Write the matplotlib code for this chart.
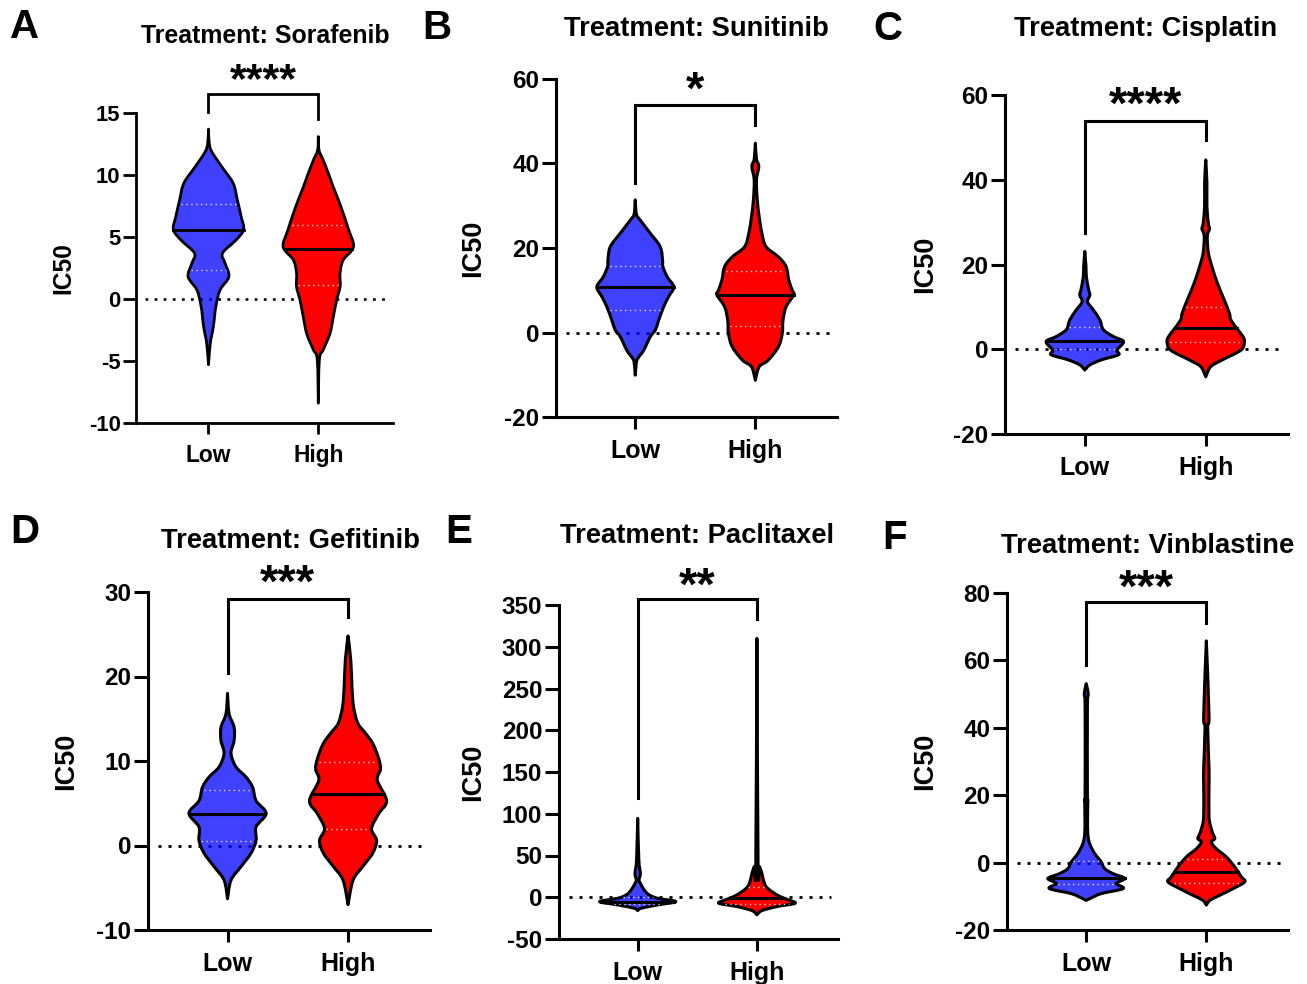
import numpy as np
import matplotlib
matplotlib.use("Agg")
import matplotlib.pyplot as plt
from matplotlib.path import Path
from matplotlib.patches import PathPatch

plt.rcParams['font.family'] = ['Liberation Sans', 'DejaVu Sans']
plt.rcParams['font.weight'] = 'bold'
plt.rcParams['axes.unicode_minus'] = False

W, H = 1307, 984

# ---- data ----
letters = ['A', 'B', 'C', 'D', 'E', 'F']
drugs = ['Sorafenib', 'Sunitinib', 'Cisplatin', 'Gefitinib', 'Paclitaxel', 'Vinblastine']
groups = ['Low', 'High']
stars = ['****', '*', '****', '***', '**', '***']
ylims = [(-10, 15), (-20, 60), (-20, 60), (-10, 30), (-50, 350), (-20, 80)]
ysteps = [5, 20, 20, 10, 50, 20]

# bracket: top, left-leg end, right-leg end, star centre (IC50 units)
bracket_top = [16.5, 53.8, 53.8, 29.2, 357, 77.2]
bracket_low = [15.1, 35.5, 27.4, 20.4, 118.6, 58.5]
bracket_high = [14.5, 49.0, 49.3, 27.0, 333, 71.2]
star_y = [18.2, 59.2, 59.4, 32.0, 382, 83.7]

# violin outlines: IC50 level and relative half-width (1 = widest)
low_y = [
    [13.7, 12.6, 11.9, 10.7, 9.35, 8.0, 6.65, 5.6, 4.77, 3.7, 2.9, 1.8, 0.73, -0.6, -2.2, -3.6, -5.3],
    [31.4, 28.0, 26.6, 23.5, 20.3, 17.2, 15.6, 13.2, 10.8, 8.5, 6.1, 2.9, 0.55, -1.0, -4.2, -6.1, -7.0, -10.1],
    [23.1, 19.5, 17.1, 14.0, 12.8, 11.2, 9.3, 6.9, 4.6, 3.0, 1.8, -0.2, -1.3, -2.5, -3.7, -4.9],
    [18.0, 15.6, 14.0, 12.4, 10.9, 9.3, 8.1, 6.9, 5.3, 3.8, 2.2, 0.6, -0.9, -2.5, -4.1, -6.3],
    [94.5, 44.7, 28.7, 20.7, 16.7, 8.8, 2.8, -1.2, -5.2, -9.2, -13.2, -16.0],
    [53.1, 50.1, 46.1, 20.5, 18.5, 13.5, 8.6, 5.6, 2.7, 0.2, -1.8, -3.3, -4.7, -6.2, -7.7, -9.2, -10.7, -11.2],
]
low_w = [
    [0, 0.02, 0.09, 0.37, 0.70, 0.82, 0.93, 1.0, 0.79, 0.40, 0.47, 0.58, 0.33, 0.21, 0.14, 0.05, 0],
    [0, 0.03, 0.13, 0.39, 0.65, 0.71, 0.72, 0.83, 1.0, 0.87, 0.74, 0.61, 0.52, 0.39, 0.22, 0.07, 0.03, 0],
    [0, 0.03, 0.04, 0.10, 0.13, 0.07, 0.22, 0.39, 0.48, 0.74, 1.0, 0.83, 0.87, 0.43, 0.13, 0],
    [0, 0.04, 0.17, 0.17, 0.09, 0.22, 0.48, 0.65, 0.74, 1.0, 0.74, 0.74, 0.61, 0.35, 0.09, 0],
    [0, 0.03, 0.07, 0.035, 0.07, 0.17, 0.30, 0.52, 1.0, 0.52, 0.09, 0],
    [0, 0.05, 0.03, 0.03, 0.04, 0.035, 0.04, 0.09, 0.22, 0.39, 0.48, 0.70, 1.0, 0.78, 0.96, 0.39, 0.09, 0],
]
high_y = [
    [13.1, 12.0, 11.2, 10.1, 9.0, 8.0, 6.9, 5.6, 4.2, 3.15, 2.1, 1.0, -0.1, -1.4, -2.8, -4.1, -4.9, -8.4],
    [44.8, 41.0, 39.3, 36.1, 31.4, 27.4, 23.5, 20.3, 17.9, 15.6, 12.4, 10.0, 8.9, 6.1, 2.9, -0.2, -3.4, -6.6, -8.1, -11.3],
    [44.7, 39.2, 33.7, 29.5, 28.5, 27.3, 25.8, 22.6, 19.5, 15.6, 11.6, 8.5, 6.9, 4.6, 3.0, 1.8, -0.2, -2.5, -4.1, -6.5],
    [24.8, 22.0, 18.9, 16.5, 14.5, 13.3, 12.0, 10.2, 9.0, 7.7, 5.3, 3.8, 2.0, 0.6, -0.9, -2.5, -4.1, -7.0],
    [310, 40.7, 36.7, 28.7, 20.7, 12.8, 6.8, 0.8, -3.2, -7.2, -11.2, -16.0, -21.0],
    [65.8, 43.7, 40.0, 27.9, 23.0, 13.5, 10.0, 8.6, 7.1, 6.1, 4.1, 1.7, -1.3, -4.2, -5.7, -7.7, -9.7, -11.2, -12.6],
]
high_w = [
    [0, 0.02, 0.14, 0.29, 0.43, 0.57, 0.71, 0.86, 1.0, 0.71, 0.62, 0.62, 0.52, 0.43, 0.33, 0.14, 0.03, 0],
    [0, 0.03, 0.09, 0.03, 0.05, 0.10, 0.17, 0.28, 0.60, 0.80, 0.87, 0.96, 1.0, 0.80, 0.72, 0.70, 0.60, 0.33, 0.10, 0],
    [0, 0.03, 0.03, 0.07, 0.10, 0.05, 0.04, 0.07, 0.16, 0.30, 0.48, 0.61, 0.65, 0.83, 0.96, 1.0, 0.91, 0.43, 0.13, 0],
    [0, 0.07, 0.10, 0.14, 0.25, 0.45, 0.65, 0.80, 0.84, 0.76, 1.0, 0.80, 0.61, 0.74, 0.64, 0.38, 0.13, 0],
    [0, 0.03, 0.07, 0.13, 0.17, 0.24, 0.39, 0.61, 0.83, 1.0, 0.52, 0.13, 0],
    [0, 0.07, 0.035, 0.07, 0.07, 0.07, 0.13, 0.17, 0.22, 0.13, 0.26, 0.52, 0.74, 0.91, 1.0, 0.70, 0.35, 0.09, 0],
]
medians = [(5.6, 4.0), (10.8, 8.85), (2.05, 4.9), (3.7, 6.1), (-5.5, -1.0), (-4.7, -2.8)]
q1 = [(2.3, 1.1), (5.3, 1.6), (0.0, 1.8), (0.55, 2.0), (-8.0, -8.0), (-6.4, -6.2)]
q3 = [(7.7, 6.0), (15.8, 14.6), (5.35, 9.9), (6.6, 9.9), (0.5, 12.0), (0.5, 1.2)]

# ---- layout (pixels of the original figure) ----
# axes box: left, right, top, bottom
boxes = [(136, 393, 113, 423), (556, 837, 79, 417), (1005, 1288, 95, 434),
         (148, 430, 592, 930), (559, 838, 605, 939), (1007, 1288, 593, 930)]
letter_xy = [(10, 27), (422, 28), (873, 29), (10, 532), (445, 532), (882, 538)]
title_xy = [(265, 36), (696, 29), (1146, 29), (290, 541), (697, 536), (1148, 546)]
ylab_x = [63, 473, 925, 66, 473, 925]
scale = [0.91, 1, 1, 1, 1, 1]

BLUE = (0, 0, 1, 0.75)
RED = (1, 0, 0, 1)
XLIM = (-0.66, 1.68)
HALF = 0.32

fig = plt.figure(figsize=(W / 100, H / 100), dpi=100)


def fx(x):
    return x / W


def fy(y):
    return 1 - y / H


def bezier_through(pts):
    # smooth curve through the read points (Catmull-Rom as cubic Bezier)
    pts = np.asarray(pts, float)
    ext = np.vstack([pts[0], pts, pts[-1]])
    verts = []
    for k in range(1, len(ext) - 2):
        p0, p1, p2, p3 = ext[k - 1], ext[k], ext[k + 1], ext[k + 2]
        verts += [p1 + (p2 - p0) / 6, p2 - (p3 - p1) / 6, p2]
    return verts


def violin(ax, c, ys, ws, color, med, lo, hi, s):
    ys = np.asarray(ys, float)
    ws = np.asarray(ws, float) * HALF
    right = np.column_stack([c + ws, ys])
    left = np.column_stack([c - ws, ys])[::-1]
    verts = [right[0]] + bezier_through(right) + bezier_through(left) + [right[0]]
    codes = [Path.MOVETO] + [Path.CURVE4] * (len(verts) - 2) + [Path.CLOSEPOLY]
    ax.add_patch(PathPatch(Path(verts, codes), facecolor=color, edgecolor='black',
                           lw=2.2 * s, joinstyle='round', zorder=3))
    for q in (lo, hi):
        hw = np.interp(q, ys[::-1], ws[::-1])
        ax.plot([c - hw * 0.92, c + hw * 0.92], [q, q], color='white', lw=1.0,
                ls=(0, (1, 2.5)), alpha=0.8, zorder=4)
    hw = np.interp(med, ys[::-1], ws[::-1])
    ax.plot([c - hw, c + hw], [med, med], color='black', lw=2.2 * s, zorder=5)


for i in range(6):
    l, r, t, b = boxes[i]
    s = scale[i]
    ax = fig.add_axes([fx(l), fy(b), (r - l) / W, (b - t) / H])
    ax.set_xlim(*XLIM)
    ax.set_ylim(*ylims[i])
    ax.set_yticks(np.arange(ylims[i][0], ylims[i][1] + 1, ysteps[i]))
    ax.set_xticks([0, 1])
    ax.set_xticklabels(groups)
    for sp in ('top', 'right'):
        ax.spines[sp].set_visible(False)
    for sp in ('left', 'bottom'):
        ax.spines[sp].set_linewidth(2.2 * s)
    ax.tick_params(axis='y', length=10 * s, width=2.2 * s, labelsize=17.5 * s, pad=2)
    ax.tick_params(axis='x', length=8.6 * s, width=2.2 * s, labelsize=18 * s, pad=7.5)
    for lab in ax.get_xticklabels() + ax.get_yticklabels():
        lab.set_fontweight('bold')

    ax.plot([-0.58, 1.62], [0, 0], color='black', lw=2 * s, ls=(0, (1.1, 2.5)),
            zorder=1)

    violin(ax, 0, low_y[i], low_w[i], BLUE, medians[i][0], q1[i][0], q3[i][0], s)
    violin(ax, 1, high_y[i], high_w[i], RED, medians[i][1], q1[i][1], q3[i][1], s)

    ax.plot([0, 0, 1, 1], [bracket_low[i], bracket_top[i], bracket_top[i], bracket_high[i]],
            color='black', lw=2.2 * s, clip_on=False, solid_joinstyle='miter')
    fs = 34 * s
    ax.annotate(stars[i], (0.5, star_y[i]), xytext=(0, -0.58 * fs + 4.5),
                textcoords='offset points', ha='center', va='baseline',
                fontsize=fs, fontweight='bold', annotation_clip=False)

    fig.text(fx(ylab_x[i]), fy((t + b) / 2), 'IC50', rotation=90, ha='center',
             va='center', fontsize=19.5 * s, fontweight='bold')
    fig.text(fx(title_xy[i][0]), fy(title_xy[i][1]), 'Treatment: ' + drugs[i],
             ha='center', va='center', fontsize=19.7 * s, fontweight='bold')
    fig.text(fx(letter_xy[i][0]), fy(letter_xy[i][1]), letters[i], ha='left',
             va='center', fontsize=29, fontweight='bold')

fig.savefig('out.png', dpi=100)
